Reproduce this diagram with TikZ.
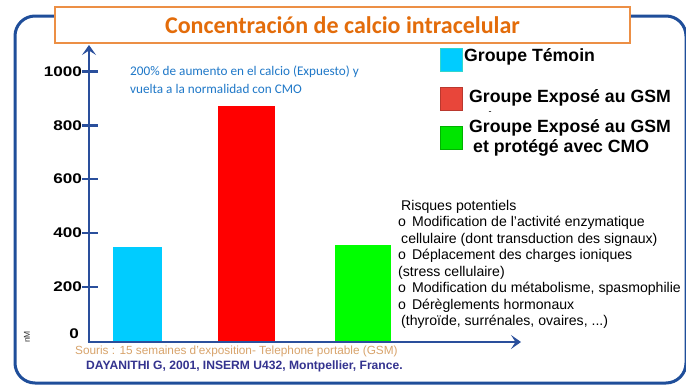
\documentclass[tikz,border=0pt]{standalone}
\usepackage{fontspec}
\usepackage{graphicx}
\setmainfont{Liberation Sans}
\newfontfamily\calib{Carlito}
\usetikzlibrary{arrows.meta}
\definecolor{framecol}{HTML}{1F4E9A}
\definecolor{axiscol}{HTML}{2A4F9C}
\definecolor{titlecol}{HTML}{E36C0A}
\definecolor{titlebox}{HTML}{EC8F45}
\definecolor{notecol}{HTML}{1F78C8}
\definecolor{sourcecol}{HTML}{D8A46C}
\definecolor{refcol}{HTML}{34338F}
\definecolor{cyanbar}{HTML}{00CCFF}
\definecolor{redbar}{HTML}{FF0000}
\definecolor{greenbar}{HTML}{00FF00}
\definecolor{redleg}{HTML}{E8463A}
\tikzset{
  axisline/.style={draw=axiscol, line width=2.8pt},
  tickline/.style={draw=axiscol, line width=2.2pt},
  ticklabel/.style={anchor=east, inner sep=0pt, font=\fontsize{14}{14}\selectfont\bfseries},
  legbox/.style={minimum width=22pt, minimum height=23pt, inner sep=0pt, line width=0.8pt},
  legtext/.style={anchor=west, inner sep=0pt, font=\fontsize{17.7}{18}\selectfont\bfseries},
  risktext/.style={anchor=base west, inner sep=0pt, font=\fontsize{14.1}{16}\selectfont},
  axisarrow/.style={-{Stealth[length=10pt,width=14pt,inset=4.5pt]}},
}
\newcommand{\widen}[1]{\scalebox{1.22}[1]{#1}}
\begin{document}
\begin{tikzpicture}[x=1pt,y=-1pt]
\useasboundingbox (0,0) rectangle (686,386);
\fill[white] (0,0) rectangle (686,386);
% frame
\draw[draw=framecol, line width=3pt, rounded corners=20pt] (15,16) rectangle (686,383);
% title box
\node[draw=titlebox, fill=white, line width=1.2pt, minimum width=575pt, minimum height=36pt, inner sep=0pt,
      text=titlecol, font=\calib\fontsize{24}{26}\selectfont\bfseries] (title) at (342.5,25)
      {Concentración de calcio intracelular};
% bars
\fill[cyanbar] (112.5,246.7) rectangle (162,342);
\fill[redbar] (218,106) rectangle (275,342);
\fill[greenbar] (335,244.7) rectangle (391,342);
% axes
\coordinate (origin) at (89,342);
\coordinate (ytip) at (89,45);
\coordinate (xtip) at (521,342);
\draw[axisline, axisarrow] (origin) -- (ytip);
\draw[axisline, axisarrow] ([xshift=-1.4pt]origin) -- (xtip);
% ticks and labels
\foreach \v/\y in {1000/71.5,800/125.5,600/179,400/233,200/287}{
  \coordinate (t\v) at (89,\y);
  \draw[tickline] ([xshift=-7pt]t\v) -- ([xshift=9pt]t\v);
  \node[ticklabel] (l\v) at ([xshift=-7pt]t\v) {\widen{\v}};
}
\node[ticklabel] (l0) at (79,334) {\widen{0}};
\node[rotate=90, inner sep=0pt, font=\fontsize{8.5}{9}\selectfont, text=black!80] (unit) at (27,337) {nM};
% annotation
\node[anchor=west, inner sep=0pt, align=left, text=notecol, font=\calib\fontsize{13.2}{18}\selectfont] (note) at (130,80)
  {200\% de aumento en el calcio (Expuesto) y\\vuelta a la normalidad con CMO};
% legend
\node[legbox, fill=cyanbar, draw=cyanbar!80!yellow] (lc) at (451.3,59.5) {};
\node[legtext] (lct) at (464,57) {Groupe Témoin};
\node[legbox, fill=redleg, draw=redleg!80!black] (lr) at (451.3,98.5) {};
\node[legtext] (lrt) at (469,97.5) {Groupe Exposé au GSM};
\node[inner sep=0pt, font=\fontsize{9}{9}\selectfont] (dash) at (490,113.5) {-};
\node[legbox, fill=greenbar!90!black, draw=greenbar!70!black] (lg) at (451.3,138) {};
\node[legtext] (lgt1) at (469,128) {Groupe Exposé au GSM};
\node[legtext] (lgt2) at (473,147.5) {et protégé avec CMO};
% risks
\node[risktext] (r1) at (401,210) {Risques potentiels};
\node[risktext] (r2) at (398,226.5) {o\hspace*{6pt}Modification de l'activité enzymatique};
\node[risktext] (r3) at (401,243) {cellulaire (dont transduction des signaux)};
\node[risktext] (r4) at (398,259.5) {o\hspace*{6pt}Déplacement des charges ioniques};
\node[risktext] (r5) at (398,276) {(stress cellulaire)};
\node[risktext] (r6) at (398,292.5) {o\hspace*{6pt}Modification du métabolisme, spasmophilie};
\node[risktext] (r7) at (398,309) {o\hspace*{6pt}Dérèglements hormonaux};
\node[risktext] (r8) at (401,325.5) {(thyroïde, surrénales, ovaires, ...)};
% source
\node[anchor=west, inner sep=0pt, text=sourcecol, font=\fontsize{11.8}{12}\selectfont] (src) at (75,351)
  {Souris : 15 semaines d'exposition- Telephone portable (GSM)};
\node[anchor=west, inner sep=0pt, text=refcol, font=\fontsize{12.1}{12}\selectfont\bfseries] (ref) at (86,366)
  {DAYANITHI G, 2001, INSERM U432, Montpellier, France.};
\end{tikzpicture}
\end{document}
